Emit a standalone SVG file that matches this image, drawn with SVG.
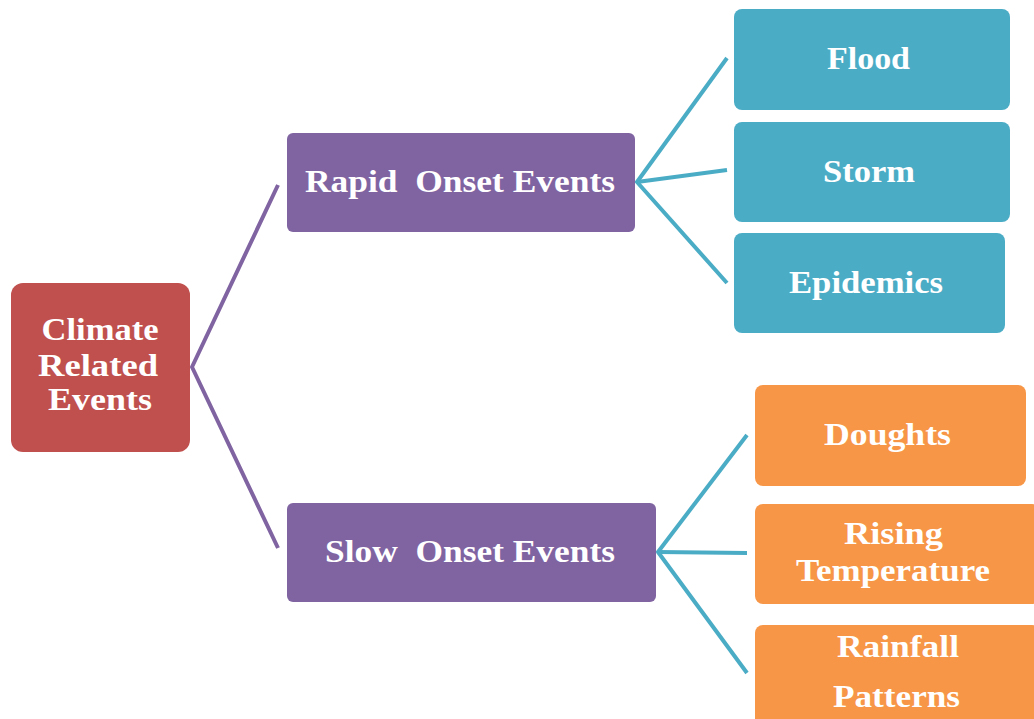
<svg xmlns="http://www.w3.org/2000/svg" width="1034" height="719" viewBox="0 0 1034 719">
<style>
text{font-family:"Liberation Serif","Times New Roman",serif;font-weight:bold;font-size:32px;fill:#ffffff;text-anchor:middle}
.pre{white-space:pre}
.red{fill:#C0504D}
.pur{fill:#8064A2}
.teal{fill:#4BACC6}
.org{fill:#F79646}
.lp{stroke:#8064A2;stroke-width:4;fill:none;stroke-linejoin:round}
.lt{stroke:#4BACC6;stroke-width:4;fill:none;stroke-linejoin:round}
</style>
<rect width="1034" height="719" fill="#ffffff"/>
<g id="connectors">
<polyline class="lp" points="278,185 192,367 278,548"/>
<polyline class="lt" points="727,58 637,182 727,283"/>
<line class="lt" x1="637" y1="182" x2="727" y2="170"/>
<polyline class="lt" points="747,435 658,552 747,673"/>
<line class="lt" x1="658" y1="552" x2="747" y2="553"/>
</g>
<g id="climate">
<rect class="red" x="11" y="283" width="179" height="169" rx="12"/>
<text x="100" y="340" textLength="117" lengthAdjust="spacingAndGlyphs">Climate</text>
<text x="98" y="376" textLength="120" lengthAdjust="spacingAndGlyphs">Related</text>
<text x="100" y="410" textLength="104" lengthAdjust="spacingAndGlyphs">Events</text>
</g>
<g id="rapid">
<rect class="pur" x="287" y="133" width="348" height="99" rx="6"/>
<text class="pre" x="460" y="192" textLength="310" lengthAdjust="spacingAndGlyphs">Rapid  Onset Events</text>
</g>
<g id="slow">
<rect class="pur" x="287" y="503" width="369" height="99" rx="6"/>
<text class="pre" x="470" y="562" textLength="290" lengthAdjust="spacingAndGlyphs">Slow  Onset Events</text>
</g>
<g id="flood">
<rect class="teal" x="734" y="9" width="276" height="101" rx="8"/>
<text x="868.5" y="69" textLength="83" lengthAdjust="spacingAndGlyphs">Flood</text>
</g>
<g id="storm">
<rect class="teal" x="734" y="122" width="276" height="100" rx="8"/>
<text x="869" y="182" textLength="92" lengthAdjust="spacingAndGlyphs">Storm</text>
</g>
<g id="epidemics">
<rect class="teal" x="734" y="233" width="271" height="100" rx="8"/>
<text x="866" y="293" textLength="154" lengthAdjust="spacingAndGlyphs">Epidemics</text>
</g>
<g id="doughts">
<rect class="org" x="755" y="385" width="271" height="101" rx="8"/>
<text x="887.5" y="445" textLength="127" lengthAdjust="spacingAndGlyphs">Doughts</text>
</g>
<g id="rising">
<rect class="org" x="755" y="504" width="285" height="100" rx="8"/>
<text x="893.5" y="544" textLength="99" lengthAdjust="spacingAndGlyphs">Rising</text>
<text x="893" y="581" textLength="194" lengthAdjust="spacingAndGlyphs">Temperature</text>
</g>
<g id="rainfall">
<rect class="org" x="755" y="625" width="285" height="110" rx="8"/>
<text x="898" y="657" textLength="122" lengthAdjust="spacingAndGlyphs">Rainfall</text>
<text x="896.5" y="707" textLength="127" lengthAdjust="spacingAndGlyphs">Patterns</text>
</g>
</svg>
